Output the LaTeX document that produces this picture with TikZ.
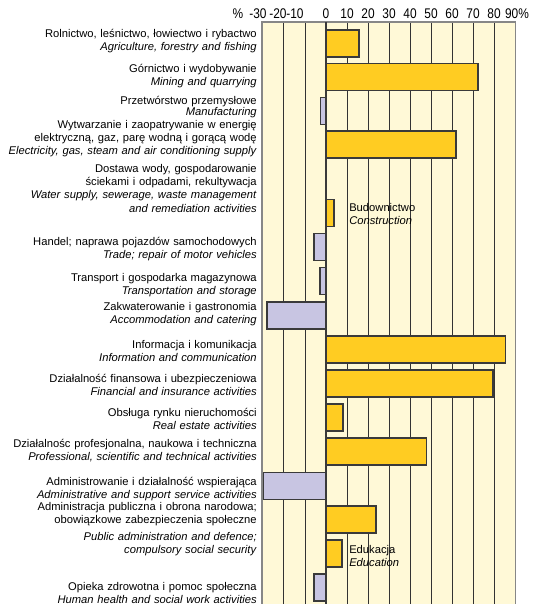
\documentclass[tikz,border=0pt]{standalone}
\usepackage{fontspec}
\setmainfont{Liberation Sans}
\newfontfamily\cndfont{Liberation Sans}[FakeStretch=0.85]
\definecolor{bgC}{RGB}{255,249,215}
\definecolor{posC}{RGB}{255,204,34}
\definecolor{negC}{RGB}{200,197,226}
\definecolor{barC}{RGB}{58,58,58}
\definecolor{frameC}{RGB}{135,135,135}

\tikzstyle{lS}=[anchor=base east,inner sep=0pt,text width=9cm,align=right,font=\fontsize{8.4}{9.9}\selectfont]
\tikzstyle{rS}=[anchor=base west,inner sep=0pt,text width=3cm,align=left,font=\fontsize{8.4}{9.9}\selectfont]
\tikzstyle{tS}=[anchor=base,inner sep=0pt,font=\cndfont\fontsize{10.5}{12}\selectfont]
\tikzstyle{bP}=[fill=posC,draw=barC,line width=0.9pt]
\tikzstyle{bN}=[fill=negC,draw=barC,line width=0.9pt]
\tikzstyle{gS}=[draw=black!80,line width=0.6pt]
\tikzstyle{fS}=[draw=frameC,line width=1.1pt]

\begin{document}
\begin{tikzpicture}[x=0.75pt,y=-0.75pt]
  \useasboundingbox (0,0) rectangle (533,604);
  % plot area
  \fill[bgC] (262,22) rectangle (515.5,604);
  \begin{scope}[shift={(326,0)},x=1.5825pt]
    \foreach \v in {-20,-10,10,20,...,80}
      \draw[gS] (\v,22) -- (\v,604);
    % bars, one per row
    \draw[bP] (0,30) rectangle (15.6,57);
    \draw[bP] (0,63.5) rectangle (72,90.5);
    \draw[bN] (0,97.5) rectangle (-2.5,124.5);
    \draw[bP] (0,131) rectangle (61.6,158);
    %\draw[bP] (0,165) rectangle (0,192);
    \draw[bP] (0,199.5) rectangle (3.8,226.5);
    \draw[bN] (0,233.5) rectangle (-5.7,260.5);
    \draw[bN] (0,267.5) rectangle (-2.8,294.5);
    \draw[bN] (0,302) rectangle (-28,329);
    \draw[bP] (0,336) rectangle (85.2,363);
    \draw[bP] (0,370) rectangle (79.1,397);
    \draw[bP] (0,404) rectangle (8.1,431);
    \draw[bP] (0,438) rectangle (47.7,465);
    \draw[bN] (0,472.5) rectangle (-29.9,499.5);
    \draw[bP] (0,506) rectangle (23.7,533);
    \draw[bP] (0,540) rectangle (7.6,567);
    \draw[bN] (0,574) rectangle (-5.7,601);
  \end{scope}
  \draw[fS] (262,604) -- (262,22) -- (515.5,22) -- (515.5,604);
  \draw[barC,line width=0.9pt] (326,22) -- (326,604);

  % axis labels
  \foreach \x/\t [count=\i] in {238/\%,258/-30,278/-20,295/-10,326/0,347/10,368/20,389/30,410/40,431/50,452/60,473/70,494/80,517/90\%}
    \node[tS] (t\i) at (\x,18) {\t};

  % sector labels
  \node[lS] (lAgr) at (257,37) {Rolnictwo, leśnictwo, łowiectwo i rybactwo\\\textit{Agriculture, forestry and fishing}};
  \node[lS] (lMin) at (257,72) {Górnictwo i wydobywanie\\\textit{Mining and quarrying}};
  \node[lS] (lMan) at (257,104) {Przetwórstwo przemysłowe\\[-1.5pt]\textit{Manufacturing}};
  \node[lS] (lEle) at (257,128.5) {Wytwarzanie i zaopatrywanie w energię\\elektryczną, gaz, parę wodną i gorącą wodę\\\textit{Electricity, gas, steam and air conditioning supply}};
  \node[lS] (lWat) at (257,172.5) {Dostawa wody, gospodarowanie\\ściekami i odpadami, rekultywacja\\\textit{Water supply, sewerage, waste management}\\\textit{and remediation activities}};
  \node[rS] (lCon) at (349,211.5) {Budownictwo\\\textit{Construction}};
  \node[lS] (lTra) at (257,245.5) {Handel; naprawa pojazdów samochodowych\\\textit{Trade; repair of motor vehicles}};
  \node[lS] (lTrn) at (257,281.5) {Transport i gospodarka magazynowa\\\textit{Transportation and storage}};
  \node[lS] (lAcc) at (257,310.5) {Zakwaterowanie i gastronomia\\\textit{Accommodation and catering}};
  \node[lS] (lInf) at (257,348.5) {Informacja i komunikacja\\\textit{Information and communication}};
  \node[lS] (lFin) at (257,382.5) {Działalność finansowa i ubezpieczeniowa\\\textit{Financial and insurance activities}};
  \node[lS] (lRea) at (257,416.5) {Obsługa rynku nieruchomości\\\textit{Real estate activities}};
  \node[lS] (lPro) at (257,447) {Działalnośc profesjonalna, naukowa i techniczna\\\textit{Professional, scientific and technical activities}};
  \node[lS] (lAdm) at (257,485.5) {Administrowanie i działalność wspierająca\\\textit{Administrative and support service activities}};
  \node[lS] (lPub) at (257,510.5) {Administracja publiczna i obrona narodowa;\\obowiązkowe zabezpieczenia społeczne\\[2.6pt]\textit{Public administration and defence;}\\\textit{compulsory social security}};
  \node[rS] (lEdu) at (349,553.5) {Edukacja\\\textit{Education}};
  \node[lS] (lHea) at (257,590.5) {Opieka zdrowotna i pomoc społeczna\\\textit{Human health and social work activities}};
\end{tikzpicture}
\end{document}
